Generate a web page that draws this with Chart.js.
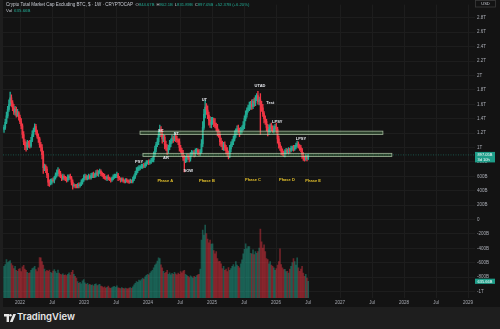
<!DOCTYPE html>
<html>
<head>
<meta charset="utf-8">
<script src="https://cdn.jsdelivr.net/npm/chart.js@4.4.1/dist/chart.umd.min.js"></script>
<style>
  html, body { margin: 0; padding: 0; background: #1e1e1e; }
  body { width: 500px; height: 329px; position: relative; overflow: hidden; }
  #wrap { position: absolute; left: 3px; top: 0; width: 497px; height: 307px; background: #131313; }
  #footer { position: absolute; left: 0; top: 307px; width: 500px; height: 22px; background: #1e1e1e; }
  #logo { position: absolute; left: 4px; top: 7px; }
  #brand { position: absolute; left: 17px; top: 4px; font: 600 9.5px "Inter", "Roboto", sans-serif; color: #e8e8e8; }
</style>
</head>
<body>
<div id="wrap"><canvas id="candleChart"></canvas></div>
<div id="footer">
  <svg id="logo" width="12" height="8" viewBox="0 0 12 8">
    <path d="M0 0h5v8H2.6V2.4H0z" fill="#e8e8e8"/>
    <circle cx="6.4" cy="1.3" r="1.3" fill="#e8e8e8"/>
    <path d="M9.2 0h2.8L8.6 8H5.9z" fill="#e8e8e8"/>
  </svg>
  <div id="brand">TradingView</div>
</div>
<script>
// weekly candles of TOTAL2, prices in trillions of USD
var firstWeek = 2021.75;
var weekStep = 7 / 365.25;
var firstOpen = 1.25;

var closes = [
  1.28,1.35,1.44,1.53,1.60,1.69,1.62,1.55,1.49,1.53,
  1.45,1.48,1.42,1.36,1.30,1.18,1.08,1.03,1.00,1.06,
  1.04,1.02,1.10,1.18,1.24,1.29,1.22,1.16,1.12,1.04,
  1.00,0.90,0.72,0.74,0.70,0.62,0.52,0.50,0.52,0.55,
  0.54,0.58,0.62,0.64,0.68,0.64,0.60,0.57,0.60,0.58,
  0.56,0.55,0.58,0.60,0.58,0.52,0.47,0.48,0.47,0.46,
  0.48,0.47,0.49,0.52,0.55,0.58,0.60,0.57,0.59,0.60,
  0.58,0.61,0.63,0.60,0.62,0.65,0.63,0.66,0.67,0.64,
  0.62,0.60,0.58,0.57,0.59,0.57,0.56,0.55,0.57,0.59,
  0.60,0.61,0.62,0.58,0.57,0.55,0.56,0.54,0.53,0.55,
  0.54,0.53,0.52,0.54,0.53,0.56,0.60,0.64,0.68,0.70,
  0.72,0.73,0.74,0.75,0.74,0.77,0.79,0.80,0.79,0.81,
  0.82,0.83,0.90,0.98,1.04,1.08,1.18,1.25,1.20,1.12,
  1.14,1.04,1.00,0.96,1.00,1.05,1.09,1.13,1.12,1.16,
  1.12,1.10,1.08,1.00,0.96,0.92,0.86,0.82,0.84,0.88,
  0.86,0.84,0.90,0.92,0.93,0.91,0.94,0.96,0.94,0.92,
  0.94,1.05,1.28,1.46,1.56,1.52,1.45,1.38,1.32,1.36,
  1.37,1.34,1.30,1.27,1.22,1.18,1.08,1.05,1.02,1.04,
  1.00,0.96,0.92,0.89,0.98,1.04,1.08,1.12,1.18,1.23,
  1.26,1.24,1.21,1.24,1.27,1.31,1.40,1.46,1.52,1.55,
  1.58,1.60,1.57,1.64,1.62,1.68,1.72,1.64,1.66,1.60,
  1.55,1.47,1.40,1.36,1.28,1.22,1.26,1.30,1.27,1.24,
  1.26,1.29,1.25,1.12,1.04,1.00,0.95,0.93,0.91,0.94,
  0.96,0.94,0.97,0.96,0.99,1.00,0.98,1.01,1.03,1.05,
  1.02,1.00,0.97,0.90,0.86,0.84,0.87,0.845,0.897
];

// wick lengths above / below the body, in 0.01T
var wickHi = [
  3,4,5,4,6,8,4,3,5,4, 3,5,2,3,4,3,4,3,5,4, 3,6,4,5,3,4,3,2,3,2, 3,4,5,3,2,3,2,3,4,2,
  3,2,3,5,4,2,3,2,3,2, 2,3,4,2,3,2,3,2,1,2, 2,3,2,3,2,4,3,2,2,3, 2,3,2,3,2,3,4,2,3,2,
  2,2,3,2,2,3,2,2,2,3, 3,2,4,2,2,1,2,2,1,2, 2,1,2,2,1,3,2,3,4,3, 3,2,3,2,3,2,3,2,3,2,
  3,3,4,4,3,5,5,6,4,5, 4,3,5,4,3,5,3,4,3,5, 3,4,2,4,3,3,4,3,4,3, 3,4,3,4,2,3,4,3,2,3,
  3,6,8,7,9,5,6,4,5,6, 5,4,6,4,5,3,4,5,4,3, 4,3,4,3,5,4,3,4,5,3, 4,5,3,4,3,5,4,5,3,4,
  5,4,6,3,5,4,3,6,4,9, 4,5,3,4,3,4,5,3,4,3, 4,3,5,3,4,3,2,3,2,3, 3,2,3,2,3,2,3,2,3,4,
  3,2,3,2,3,2,3,2,0
];
var wickLo = [
  4,3,2,3,3,2,5,4,3,4, 3,2,4,3,4,5,4,6,5,3, 4,3,2,2,3,2,4,3,5,4, 5,6,8,4,5,4,5,4,2,3,
  2,3,2,3,3,4,2,3,2,3, 2,3,2,3,2,4,5,2,3,2, 2,3,2,2,3,2,3,2,2,3, 2,2,3,2,2,3,2,3,2,3,
  2,3,2,2,3,2,2,3,2,2, 2,2,3,4,2,3,2,2,2,2, 2,2,2,1,2,2,2,3,2,3, 2,3,2,3,2,2,3,2,3,2,
  3,2,3,2,4,3,4,3,5,6, 4,6,4,6,4,3,4,3,5,3, 4,3,4,5,3,4,4,16,3,4, 3,4,3,2,3,4,3,2,4,3,
  3,2,4,3,5,6,5,7,4,5, 4,5,3,4,6,4,5,4,5,6, 4,5,4,5,3,4,3,4,3,4, 5,4,6,3,4,3,5,3,4,3,
  4,5,4,3,5,4,3,4,5,42, 5,4,6,4,5,6,4,5,4,3, 4,3,5,6,5,4,5,4,3,4, 3,2,3,4,2,3,3,2,3,3,
  3,4,3,5,4,3,2,3,0
];

// weekly volume, billions of USD
var volumes = [
  1200,1270,1460,1350,1380,1420,1310,1230,1120,1200,
  1050,1010,1100,1120,1000,1180,1240,1100,1050,980,
  940,960,1050,1120,1150,1200,1080,1000,1150,1540,
  1530,1380,1250,1100,1000,1050,1010,1060,980,950,
  1020,1080,1000,940,1060,950,900,880,920,860,
  880,850,900,960,870,980,1050,900,820,760,
  620,560,600,540,650,700,580,520,560,500,
  520,480,500,460,520,540,470,500,520,450,
  430,400,420,380,410,450,390,370,400,420,
  440,410,460,390,380,360,400,370,350,380,
  360,350,380,400,370,420,500,560,620,600,
  680,650,700,750,720,800,860,900,880,950,
  1000,1050,1150,1250,1300,1400,1530,1500,1260,1150,
  1010,940,980,1050,900,960,880,940,900,980,
  920,880,950,900,1000,960,1020,1050,900,860,
  820,780,840,800,760,820,790,850,880,900,
  1100,2200,2580,2390,2770,2450,2240,2100,2200,2050,
  2060,1800,1680,1760,1500,1380,1390,1300,1120,1200,
  1050,1100,1000,1160,1050,1120,1200,1270,1180,1380,
  1250,1200,1150,1300,1450,1680,1850,2060,1870,1950,
  1950,1700,1680,1830,1650,1760,1700,1760,1900,2620,
  2130,1900,2020,1760,1500,1460,1300,1380,1250,1200,
  1150,1050,1120,1250,1380,1870,1270,1150,1080,1090,
  1000,1010,950,1100,1200,1350,1500,1380,1250,1530,
  1150,1010,1100,1200,950,820,900,760,635.66
];

// last candle as shown in the legend (billions)
var lastOHLC = [844.67, 902.1, 831.89, 897.05];
var lastChange = 52.37;
var lastChangePct = 6.20;
var barCountdown = '3d 10h';

var priceTicks = [-1,-0.8,-0.6,-0.4,-0.2,0,0.2,0.4,0.6,0.8,1,1.2,1.4,1.6,1.8,2,2.2,2.4,2.6,2.8];
var timeTickValues = [2022,2022.5,2023,2023.5,2024,2024.5,2025,2025.5,2026,2026.5,2027,2027.5,2028,2028.5,2029];
var timeTickLabels = ['2022','Jul','2023','Jul','2024','Jul','2025','Jul','2026','Jul','2027','Jul','2028','Jul','2029'];

// drawn zones
var zoneStart = [2023.875, 2023.92];
var zoneEnd = [2027.67, 2027.81];
var zoneLow = [1.180, 0.874];
var zoneHigh = [1.227, 0.919];

// wyckoff labels
var noteLabels = ['PSY','SC','AR','ST','SOW','UT','UTAD','Test','LPSY','LPSY'];
var noteTimes = [2023.86, 2024.20, 2024.28, 2024.44, 2024.63, 2024.88, 2025.75, 2025.91, 2026.02, 2026.39];
var noteValues = [0.796, 1.234, 0.851, 1.193, 0.673, 1.657, 1.862, 1.616, 1.356, 1.124];

var phaseLabels = ['Phase A','Phase B','Phase C','Phase D','Phase E'];
var phaseTimes = [2024.27, 2024.92, 2025.64, 2026.17, 2026.58];
var phaseValues = [0.537, 0.537, 0.551, 0.551, 0.537];

var upColor = '#22ab94';
var downColor = '#f23645';

// build candles
var n = closes.length;
var wickData = [], bodyData = [], volData = [], candleColors = [], volColors = [];
for (var i = 0; i < n; i++) {
  var t = firstWeek + i * weekStep;
  var o, h, l, c;
  if (i === n - 1) {
    o = lastOHLC[0] / 1000; h = lastOHLC[1] / 1000; l = lastOHLC[2] / 1000; c = lastOHLC[3] / 1000;
  } else {
    o = i === 0 ? firstOpen : closes[i - 1];
    c = closes[i];
    h = Math.max(o, c) + wickHi[i] / 100;
    l = Math.min(o, c) - wickLo[i] / 100;
  }
  wickData.push({x: t, y: [l, h]});
  bodyData.push({x: t, y: [Math.min(o, c), Math.max(o, c)]});
  volData.push({x: t, y: volumes[i]});
  var up = c >= o;
  candleColors.push(up ? upColor : downColor);
  volColors.push(up ? 'rgba(34,171,148,0.42)' : 'rgba(242,54,69,0.42)');
}

function fmtPrice(v) {
  v = Math.round(v * 10) / 10;
  if (v === 0) return '0';
  if (Math.abs(v) >= 1) return v + 'T';
  return Math.round(v * 1000) + 'B';
}
function fmtB(v) {
  return parseFloat(v.toFixed(2)) + 'B';
}

var overlay = {
  id: 'overlay',
  beforeDatasetsDraw: function(chart) {
    var c = chart.ctx, a = chart.chartArea, y = chart.scales.y;
    var py = y.getPixelForValue(lastOHLC[3] / 1000);
    c.save();
    c.strokeStyle = 'rgba(34,171,148,0.7)';
    c.lineWidth = 0.6;
    c.setLineDash([1, 1.5]);
    c.beginPath();
    c.moveTo(a.left, py);
    c.lineTo(a.right, py);
    c.stroke();
    c.restore();
  },
  afterDatasetsDraw: function(chart) {
    var c = chart.ctx, x = chart.scales.x, y = chart.scales.y;
    c.save();
    // zones
    for (var i = 0; i < zoneStart.length; i++) {
      var x0 = x.getPixelForValue(zoneStart[i]), x1 = x.getPixelForValue(zoneEnd[i]);
      var y0 = y.getPixelForValue(zoneHigh[i]), y1 = y.getPixelForValue(zoneLow[i]);
      c.fillStyle = 'rgba(90,150,90,0.35)';
      c.fillRect(x0, y0, x1 - x0, y1 - y0);
      c.strokeStyle = 'rgba(205,230,195,0.75)';
      c.lineWidth = 0.8;
      c.strokeRect(x0, y0, x1 - x0, y1 - y0);
    }
    // labels
    c.textAlign = 'center';
    c.textBaseline = 'middle';
    c.font = '600 4px "Liberation Sans", sans-serif';
    c.fillStyle = '#e6e8ee';
    for (var j = 0; j < noteLabels.length; j++) {
      c.fillText(noteLabels[j], x.getPixelForValue(noteTimes[j]), y.getPixelForValue(noteValues[j]));
    }
    c.fillStyle = '#e3c02c';
    for (var k = 0; k < phaseLabels.length; k++) {
      c.fillText(phaseLabels[k], x.getPixelForValue(phaseTimes[k]), y.getPixelForValue(phaseValues[k]));
    }
    c.restore();
  },
  afterDraw: function(chart) {
    var c = chart.ctx, a = chart.chartArea, y = chart.scales.y, yv = chart.scales.yv;
    c.save();
    // legend line
    c.textBaseline = 'middle';
    c.textAlign = 'left';
    c.font = '4.5px "Liberation Sans", sans-serif';
    c.fillStyle = '#c9ccd4';
    var title = 'Crypto Total Market Cap Excluding BTC, $ \u00b7 1W \u00b7 CRYPTOCAP';
    c.fillText(title, 3, 5);
    var px = Math.max(3 + c.measureText(title).width + 2.5, 111);
    c.font = '4.2px "Liberation Sans", sans-serif';
    var parts = [['O', fmtB(lastOHLC[0])], ['H', fmtB(lastOHLC[1])], ['L', fmtB(lastOHLC[2])], ['C', fmtB(lastOHLC[3])]];
    for (var i = 0; i < parts.length; i++) {
      c.fillStyle = '#c9ccd4';
      c.fillText(parts[i][0], px, 5);
      px += c.measureText(parts[i][0]).width;
      c.fillStyle = upColor;
      c.fillText(parts[i][1], px, 5);
      px += c.measureText(parts[i][1]).width + 2;
    }
    c.fillText('+' + fmtB(lastChange) + ' (+' + lastChangePct.toFixed(2) + '%)', px, 5);
    c.font = '4.4px "Liberation Sans", sans-serif';
    c.fillStyle = '#c9ccd4';
    c.fillText('Vol', 3, 10.5);
    c.fillStyle = upColor;
    c.fillText(fmtB(volumes[n - 1]), 3 + c.measureText('Vol').width + 2, 10.5);

    // USD box
    c.font = '4px "Liberation Sans", sans-serif';
    c.strokeStyle = '#3c3c3c';
    c.lineWidth = 0.8;
    c.strokeRect(a.right + 0.5, 0.5, 20, 6.5);
    c.fillStyle = '#c9ccd4';
    c.textAlign = 'center';
    c.fillText('USD', a.right + 10.5, 3.8);

    // last price tag
    var py = y.getPixelForValue(lastOHLC[3] / 1000);
    c.fillStyle = '#1e9e89';
    c.fillRect(a.right, py - 3, 20, 10.5);
    c.fillStyle = '#ffffff';
    c.textAlign = 'left';
    c.fillText(fmtB(lastOHLC[3]), a.right + 2.5, py + 0.3);
    c.fillText(barCountdown, a.right + 2.5, py + 4.8);

    // volume tag
    var vy = yv.getPixelForValue(volumes[n - 1]);
    c.fillStyle = '#1e9e89';
    c.fillRect(a.right, vy - 2.6, 20, 5.2);
    c.fillStyle = '#ffffff';
    c.fillText(fmtB(volumes[n - 1]), a.right + 2.5, vy + 0.2);
    c.restore();
  }
};

var ctx = document.getElementById('candleChart');
var charts = new Chart(ctx, {
  type: 'bar',
  data: {
    datasets: [
      { label: 'Vol', data: volData, yAxisID: 'yv', backgroundColor: volColors, barThickness: 1, grouped: false, order: 3 },
      { label: 'Wick', data: wickData, yAxisID: 'y', backgroundColor: candleColors, barThickness: 0.7, grouped: false, order: 2 },
      { label: 'Body', data: bodyData, yAxisID: 'y', backgroundColor: candleColors, barThickness: 1.1, minBarLength: 0.6, grouped: false, order: 1 }
    ]
  },
  options: {
    responsive: true,
    maintainAspectRatio: false,
    animation: false,
    devicePixelRatio: 1,
    layout: { padding: 0 },
    plugins: { legend: { display: false }, tooltip: { enabled: false } },
    scales: {
      x: {
        type: 'linear',
        min: 2021.734,
        max: 2029.109,
        offset: false,
        grid: { color: '#1d1d1d', lineWidth: 1, drawTicks: false, offset: false },
        border: { display: false },
        afterBuildTicks: function(scale) {
          scale.ticks = timeTickValues.map(function(v) { return {value: v}; });
        },
        afterFit: function(scale) { scale.height = 9; },
        ticks: {
          autoSkip: false,
          maxRotation: 0,
          padding: 2.5,
          color: '#a9acb4',
          font: { family: '"Liberation Sans", sans-serif', size: 4.5 },
          callback: function(v) {
            var k = timeTickValues.indexOf(v);
            return k >= 0 ? timeTickLabels[k] : '';
          }
        }
      },
      y: {
        position: 'right',
        min: -1.089,
        max: 2.982,
        grid: { color: '#1d1d1d', lineWidth: 1, drawTicks: false },
        border: { display: false },
        afterBuildTicks: function(scale) {
          scale.ticks = priceTicks.map(function(v) { return {value: v}; });
        },
        afterFit: function(scale) { scale.width = 25; },
        ticks: {
          padding: 2,
          color: '#a9acb4',
          font: { family: '"Liberation Sans", sans-serif', size: 4.5 },
          callback: function(v) { return fmtPrice(v); }
        }
      },
      yv: {
        display: false,
        min: 0,
        max: 11145
      }
    }
  },
  plugins: [overlay]
});
</script>
</body>
</html>
